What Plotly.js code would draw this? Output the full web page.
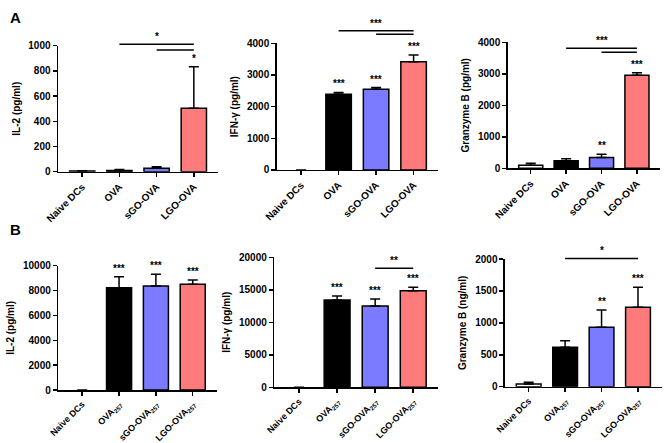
<!DOCTYPE html>
<html>
<head>
<meta charset="utf-8">
<script src="https://cdn.plot.ly/plotly-3.0.1.min.js"></script>
<style>
  html,body{margin:0;padding:0;background:#fff;}
  #chart{width:670px;height:443px;}
</style>
</head>
<body>
<div id="chart"></div>
<script>
// categories
const CATS_A = ['Naive DCs','OVA','sGO-OVA','LGO-OVA'];
const CATS_B = ['Naive DCs','OVA<sub>257</sub>','sGO-OVA<sub>257</sub>','LGO-OVA<sub>257</sub>'];

// means and upper error (SD) per panel
const A_IL2 = [5, 10, 27, 503];
const A_IL2_ERR = [3, 7, 13, 330];
const A_IFN = [0, 2390, 2545, 3418];
const A_IFN_ERR = [0, 60, 55, 212];
const A_GZB = [95, 240, 345, 2955];
const A_GZB_ERR = [65, 65, 100, 80];
const B_IL2 = [0, 8230, 8367, 8500];
const B_IL2_ERR = [0, 885, 943, 350];
const B_IFN = [0, 13430, 12500, 14860];
const B_IFN_ERR = [0, 620, 1080, 520];
const B_GZB = [42, 617, 930, 1243];
const B_GZB_ERR = [27, 103, 271, 314];

// stars over each bar
const A_IL2_STARS = ['', '', '', '*'];
const A_IFN_STARS = ['', '***', '***', '***'];
const A_GZB_STARS = ['', '', '**', '***'];
const B_IL2_STARS = ['', '***', '***', '***'];
const B_IFN_STARS = ['', '***', '***', '***'];
const B_GZB_STARS = ['', '', '**', '***'];

// comparison brackets: [from, to, label]
const A_IL2_SIG = [[1, 3, '*'], [2, 3, '']];
const A_IFN_SIG = [[1, 3, '***'], [2, 3, '']];
const A_GZB_SIG = [[1, 3, '***'], [2, 3, '']];
const B_IL2_SIG = [];
const B_IFN_SIG = [[2, 3, '**']];
const B_GZB_SIG = [[1, 3, '*']];

const BAR_COLORS = ['#ffffff', '#000000', '#7b7bff', '#ff7b7b'];
const FONT = 'Liberation Sans, Arial, sans-serif';

// panel layout (domains in paper fraction, bracket levels in axis-domain fraction)
const PANELS = [
  {cats:CATS_A, y:A_IL2, e:A_IL2_ERR, s:A_IL2_STARS, sig:A_IL2_SIG, lv:[1.011,0.966], title:'IL-2 (pg/ml)', max:1000, dt:200,
   xd:[0.0866,0.3254], yd:[0.6124,0.8968], fs:10},
  {cats:CATS_A, y:A_IFN, e:A_IFN_ERR, s:A_IFN_STARS, sig:A_IFN_SIG, lv:[1.099,1.071], title:'IFN-γ (pg/ml)', max:4000, dt:1000,
   xd:[0.413,0.6537], yd:[0.6163,0.9023], fs:10},
  {cats:CATS_A, y:A_GZB, e:A_GZB_ERR, s:A_GZB_STARS, sig:A_GZB_SIG, lv:[0.952,0.921], title:'Granzyme B (pg/ml)', max:4000, dt:1000,
   xd:[0.7578,0.985], yd:[0.6201,0.9045], fs:10},
  {cats:CATS_B, y:B_IL2, e:B_IL2_ERR, s:B_IL2_STARS, sig:B_IL2_SIG, lv:[], title:'IL-2 (pg/ml)', max:10000, dt:2000,
   xd:[0.087,0.3234], yd:[0.1196,0.4002], fs:9},
  {cats:CATS_B, y:B_IFN, e:B_IFN_ERR, s:B_IFN_STARS, sig:B_IFN_SIG, lv:[0.915], title:'IFN-γ (pg/ml)', max:20000, dt:5000,
   xd:[0.4094,0.6537], yd:[0.1257,0.4192], fs:9},
  {cats:CATS_B, y:B_GZB, e:B_GZB_ERR, s:B_GZB_STARS, sig:B_GZB_SIG, lv:[1.005], title:'Granzyme B (ng/ml)', max:2000, dt:500,
   xd:[0.7537,0.9876], yd:[0.1271,0.4153], fs:9}
];

const traces = [];
const shapes = [];
const annotations = [
  {xref:'paper',yref:'paper',x:0.012,y:0.985,xanchor:'left',yanchor:'top',text:'<b>A</b>',showarrow:false,font:{family:FONT,size:15,color:'#000'}},
  {xref:'paper',yref:'paper',x:0.012,y:0.505,xanchor:'left',yanchor:'top',text:'<b>B</b>',showarrow:false,font:{family:FONT,size:15,color:'#000'}}
];
const layout = {
  width:670, height:443, margin:{l:0,r:0,t:0,b:0},
  paper_bgcolor:'#fff', plot_bgcolor:'#fff',
  showlegend:false, bargap:0.32,
  font:{family:FONT,color:'#000'}
};
const STAR_FONT = {family:FONT, size:10, weight:'bold', color:'#000000'};

PANELS.forEach((p, i) => {
  const n = i === 0 ? '' : String(i + 1);
  const xa = 'x' + n, ya = 'y' + n;
  traces.push({
    type:'bar', x:p.cats, y:p.y, xaxis:xa, yaxis:ya,
    // empty groups (value 0) get no outline and no error cap
    marker:{color:BAR_COLORS, line:{color:'#000', width:p.y.map(v => v > 0 ? 1.5 : 0)}},
    error_y:{type:'data', symmetric:false, array:p.e.map(v => v > 0 ? v : null), arrayminus:p.e.map(() => 0),
      color:'#000', thickness:1.5, width:5},
    hoverinfo:'x+y'
  });
  layout['xaxis' + n] = {
    domain:p.xd, anchor:ya, type:'category', range:[-0.65, 3.65],
    showline:true, linecolor:'#000', linewidth:1.5, ticks:'outside', ticklen:4, tickwidth:1.5, tickcolor:'#000',
    tickangle:-45, tickfont:{family:FONT, size:p.fs, weight:'bold', color:'#000'},
    showgrid:false, zeroline:false, fixedrange:true
  };
  layout['yaxis' + n] = {
    domain:p.yd, anchor:xa, range:[0, p.max], dtick:p.dt, tick0:0, tickformat:'d',
    showline:true, linecolor:'#000', linewidth:1.5, ticks:'outside', ticklen:4, tickwidth:1.5, tickcolor:'#000',
    tickfont:{family:FONT, size:10, weight:'bold', color:'#000'},
    title:{text:'<b>' + p.title + '</b>', font:{family:FONT, size:10, color:'#000'}, standoff:6},
    showgrid:false, zeroline:false, fixedrange:true
  };
  // stars above bars
  p.s.forEach((st, k) => {
    if (!st) return;
    annotations.push({xref:xa, yref:ya, x:k, y:p.y[k] + p.e[k], text:st, showarrow:false,
      yanchor:'bottom', yshift:1, font:STAR_FONT});
  });
  // comparison brackets
  p.sig.forEach((b, k) => {
    const lv = p.lv[k];
    shapes.push({type:'line', xref:xa, yref:ya + ' domain', x0:b[0], x1:b[1], y0:lv, y1:lv,
      line:{color:'#000', width:1.5}});
    if (b[2]) {
      annotations.push({xref:xa, yref:'paper', x:(b[0] + b[1]) / 2,
        y:p.yd[0] + lv * (p.yd[1] - p.yd[0]), text:b[2], showarrow:false,
        yanchor:'bottom', yshift:0, font:STAR_FONT});
    }
  });
});

layout.shapes = shapes;
layout.annotations = annotations;

Plotly.newPlot('chart', traces, layout, {displayModeBar:false, staticPlot:true});
</script>
</body>
</html>
